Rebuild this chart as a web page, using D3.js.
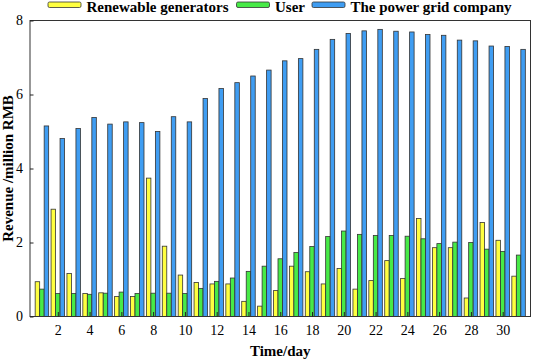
<!DOCTYPE html>
<meta charset="utf-8">
<style>
body { margin: 0; background: #fff; }
.axis .domain { display: none; }
.axis line { stroke: #222; }
</style>
<svg width="533" height="361"></svg>
<script src="https://cdn.jsdelivr.net/npm/d3@7/dist/d3.min.js"></script>
<script>

// values (million RMB), days 1..31
var days = d3.range(1, 32);
var renewable = [0.94, 2.90, 1.16, 0.62, 0.64, 0.54, 0.54, 3.74, 1.90, 1.12, 0.92, 0.88, 0.88, 0.41, 0.28, 0.70,
                 1.36, 1.21, 0.88, 1.30, 0.74, 0.97, 1.51, 1.03, 2.65, 1.86, 1.86, 0.50, 2.54, 2.06, 1.09];
var user = [0.74, 0.62, 0.62, 0.60, 0.63, 0.66, 0.62, 0.63, 0.63, 0.62, 0.76, 0.95, 1.04, 1.22, 1.36, 1.56,
            1.73, 1.89, 2.16, 2.31, 2.22, 2.19, 2.19, 2.17, 2.10, 1.97, 2.01, 2.00, 1.82, 1.76, 1.66];
var grid = [5.15, 4.81, 5.08, 5.38, 5.20, 5.26, 5.24, 5.00, 5.40, 5.26, 5.89, 6.16, 6.32, 6.50, 6.66, 6.91,
            6.97, 7.22, 7.49, 7.65, 7.72, 7.76, 7.71, 7.69, 7.62, 7.60, 7.47, 7.45, 7.31, 7.30, 7.22];
var seriesNames = ["Renewable generators", "User", "The power grid company"];
var seriesColors = ["#FFFF40", "#47EA47", "#3F9DF2"];
var yTicks = [0, 2, 4, 6, 8];
var xTicks = d3.range(2, 31, 2);

var serif = "'Liberation Serif', 'Times New Roman', Times, serif";

var svg = d3.select("svg"),
    margin = {top: 20.5, right: 2.5, bottom: 44.5, left: 30},
    width = +svg.attr("width") - margin.left - margin.right,
    height = +svg.attr("height") - margin.top - margin.bottom,
    g = svg.append("g").attr("transform", "translate(" + margin.left + "," + margin.top + ")");

var x = d3.scaleLinear().domain([0.25, 31.75]).range([0, width]);
var x1 = d3.scaleBand().domain(seriesNames).range([-6.75, 6.75]);
var y = d3.scaleLinear().domain([0, 8]).range([height, 0]);
var z = d3.scaleOrdinal().domain(seriesNames).range(seriesColors);

var rows = days.map(function(d, i) {
  return {day: d, values: [renewable[i], user[i], grid[i]]};
});

var groups = g.append("g")
  .selectAll("g")
  .data(rows)
  .enter().append("g")
    .attr("transform", function(d) { return "translate(" + x(d.day) + ",0)"; });

groups.selectAll("rect")
  .data(function(d) { return seriesNames.map(function(k, j) { return {key: k, value: d.values[j]}; }); })
  .enter().append("rect")
    .attr("x", function(d) { return x1(d.key); })
    .attr("y", function(d) { return y(d.value); })
    .attr("width", x1.bandwidth())
    .attr("height", function(d) { return height - y(d.value); })
    .attr("fill", function(d) { return z(d.key); })
    .attr("stroke", "#333")
    .attr("stroke-width", 0.8);

// frame
g.append("rect")
  .attr("width", width)
  .attr("height", height)
  .attr("fill", "none")
  .attr("stroke", "#333")
  .attr("stroke-width", 1);

g.append("g")
    .attr("class", "axis")
    .attr("transform", "translate(0," + height + ")")
    .call(d3.axisBottom(x).tickValues(xTicks).tickSizeInner(-4.5).tickSizeOuter(0).tickPadding(9).tickFormat(d3.format("d")))
    .selectAll("text").style("font-size", "14px").style("font-family", serif).attr("fill", "#000");

g.append("g")
    .attr("class", "axis")
    .call(d3.axisLeft(y).tickValues(yTicks).tickSizeInner(-3.5).tickSizeOuter(0).tickPadding(7))
    .selectAll("text").style("font-size", "14px").style("font-family", serif).attr("fill", "#000");

svg.append("text")
  .attr("x", margin.left + width / 2)
  .attr("y", 356)
  .attr("text-anchor", "middle")
  .style("font-family", serif)
  .style("font-size", "15px")
  .style("font-weight", "bold")
  .text("Time/day");

svg.append("text")
  .attr("transform", "translate(13," + (margin.top + height / 2) + ") rotate(-90)")
  .attr("text-anchor", "middle")
  .style("font-family", serif)
  .style("font-size", "15px")
  .style("font-weight", "bold")
  .text("Revenue /million RMB");

// legend
var legendX = [48, 236.5, 312];
var legend = svg.append("g")
  .selectAll("g")
  .data(seriesNames)
  .enter().append("g")
    .attr("transform", function(d, i) { return "translate(" + legendX[i] + ",0)"; });

legend.append("rect")
  .attr("x", 0)
  .attr("y", 2)
  .attr("width", 33)
  .attr("height", 5.5)
  .attr("rx", 1.5)
  .attr("fill", z)
  .attr("stroke", "#333")
  .attr("stroke-width", 0.8);

legend.append("text")
  .attr("x", 38.5)
  .attr("y", 11.5)
  .style("font-family", serif)
  .style("font-size", "15px")
  .style("font-weight", "bold")
  .text(function(d) { return d; });

</script>
